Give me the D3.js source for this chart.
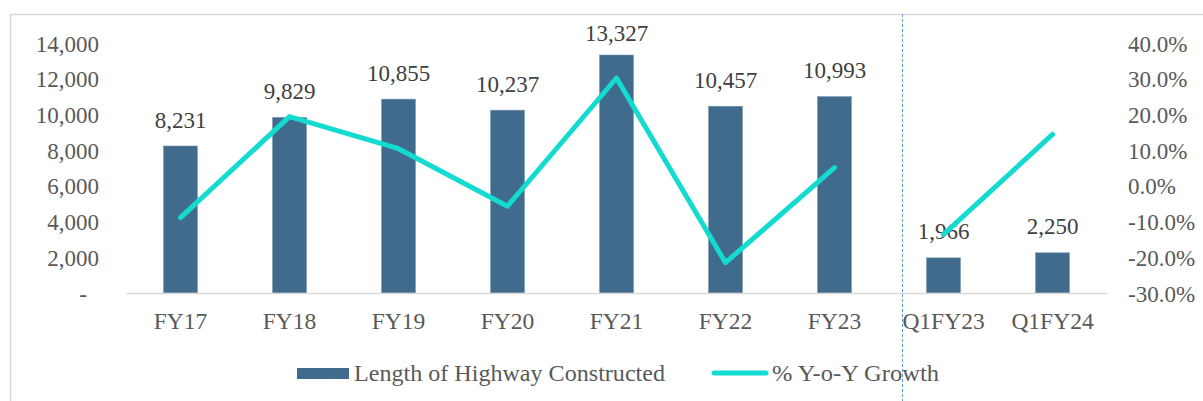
<!DOCTYPE html>
<html>
<head>
<meta charset="utf-8">
<script src="https://cdn.jsdelivr.net/npm/d3@7"></script>
<style>
  body { margin: 0; background: #fff; }
  text { font-family: "Liberation Serif", "Times New Roman", serif; }
</style>
</head>
<body>
<div class="container"></div>
<script>
const w = 1203
const h = 401

// data
const categories = ['FY17', 'FY18', 'FY19', 'FY20', 'FY21', 'FY22', 'FY23', 'Q1FY23', 'Q1FY24']
const highwayKm = [8231, 9829, 10855, 10237, 13327, 10457, 10993, 1966, 2250]
const yoyGrowth = [-0.089, 0.194, 0.104, -0.057, 0.302, -0.215, 0.051, -0.136, 0.144]
const lineGroup = [1, 1, 1, 1, 1, 1, 1, 2, 2]   // FY series and quarterly series are not joined
const leftTicks = [0, 2000, 4000, 6000, 8000, 10000, 12000, 14000]
const rightTicks = [-0.3, -0.2, -0.1, 0, 0.1, 0.2, 0.3, 0.4]

const barColor = '#416b8d'
const lineColor = '#14dbd0'
const grey = '#595959'

const svg = d3.select('.container')
  .append('svg')
  .attr('width', w)
  .attr('height', h)

// chart border
svg.append('rect')
  .attr('x', 10.5).attr('y', 14.5)
  .attr('width', w + 20).attr('height', h + 20)
  .attr('fill', 'none')
  .attr('stroke', '#d9d9d9')
  .attr('stroke-width', 1.5)

const xScale = d3.scaleBand()
  .domain(categories)
  .range([126, 1107])
  .paddingInner(0.69)
  .paddingOuter(0.345)

const yLeft = d3.scaleLinear().domain([0, 14000]).range([293, 43])
const yRight = d3.scaleLinear().domain([-0.3, 0.4]).range([293, 43])

// left axis
const leftAxis = svg.append('g')
  .attr('transform', 'translate(99, 0)')
  .call(d3.axisLeft(yLeft).tickValues(leftTicks).tickSize(0).tickPadding(0)
    .tickFormat(d => d === 0 ? '-' : d3.format(',')(d)))
leftAxis.select('.domain').remove()
leftAxis.selectAll('text')
  .attr('font-size', 23).attr('fill', grey).attr('dy', '0.35em')
  .attr('font-family', '"Liberation Serif", serif')
  .filter(d => d === 0).attr('dx', -12)

// right axis
const rightAxis = svg.append('g')
  .attr('transform', 'translate(1128, 0)')
  .call(d3.axisRight(yRight).tickValues(rightTicks).tickSize(0).tickPadding(0)
    .tickFormat(d => (d * 100).toFixed(1) + '%'))
rightAxis.select('.domain').remove()
rightAxis.selectAll('text')
  .attr('font-size', 23).attr('fill', grey).attr('dy', '0.35em')
  .attr('font-family', '"Liberation Serif", serif')

// bars
svg.selectAll('.bar')
  .data(highwayKm)
  .enter()
  .append('rect')
  .attr('class', 'bar')
  .attr('x', (d, i) => xScale(categories[i]))
  .attr('y', d => yLeft(d))
  .attr('width', xScale.bandwidth())
  .attr('height', d => yLeft(0) - yLeft(d))
  .attr('fill', barColor)
  .attr('stroke', '#6f8fab')
  .attr('stroke-width', 0.6)

// x axis
const xAxis = svg.append('g')
  .attr('transform', 'translate(0, 293)')
  .call(d3.axisBottom(xScale).tickSize(0).tickSizeOuter(0).tickPadding(19))
xAxis.select('.domain').attr('stroke', '#d9d9d9').attr('stroke-width', 1.5)
xAxis.selectAll('text')
  .attr('font-size', 23.5).attr('fill', grey)
  .attr('font-family', '"Liberation Serif", serif')

// data labels (kept inside the plot area at the top)
svg.selectAll('.label')
  .data(highwayKm)
  .enter()
  .append('text')
  .attr('class', 'label')
  .attr('x', (d, i) => xScale(categories[i]) + xScale.bandwidth() / 2)
  .attr('y', d => Math.max(yLeft(d) - 18.5, 41))
  .attr('text-anchor', 'middle')
  .attr('font-size', 23)
  .attr('fill', '#404040')
  .text(d => d3.format(',')(d))

// growth line, drawn per group
const points = yoyGrowth.map((v, i) => ({ cat: categories[i], v: v, g: lineGroup[i] }))
const line = d3.line()
  .x(d => xScale(d.cat) + xScale.bandwidth() / 2)
  .y(d => yRight(d.v))
d3.group(points, d => d.g).forEach(seg => {
  svg.append('path')
    .attr('d', line(seg))
    .attr('fill', 'none')
    .attr('stroke', lineColor)
    .attr('stroke-width', 5)
    .attr('stroke-linejoin', 'round')
    .attr('stroke-linecap', 'round')
})

// legend
const legend = svg.append('g')
legend.append('rect')
  .attr('x', 297).attr('y', 368)
  .attr('width', 52).attr('height', 11)
  .attr('fill', barColor)
legend.append('text')
  .attr('x', 354).attr('y', 381)
  .attr('font-size', 23).attr('fill', grey)
  .attr('textLength', 311).attr('lengthAdjust', 'spacingAndGlyphs')
  .text('Length of Highway Constructed')
legend.append('line')
  .attr('x1', 714).attr('x2', 766)
  .attr('y1', 373).attr('y2', 373)
  .attr('stroke', lineColor).attr('stroke-width', 5)
  .attr('stroke-linecap', 'round')
legend.append('text')
  .attr('x', 772).attr('y', 381)
  .attr('font-size', 23).attr('fill', grey)
  .attr('textLength', 167).attr('lengthAdjust', 'spacingAndGlyphs')
  .text('% Y-o-Y Growth')

// dashed separator between annual and quarterly figures
svg.append('line')
  .attr('x1', 902.5).attr('x2', 902.5)
  .attr('y1', 14).attr('y2', h)
  .attr('stroke', '#5b9bd5')
  .attr('stroke-width', 1)
  .attr('stroke-dasharray', '3,2')
</script>
</body>
</html>
